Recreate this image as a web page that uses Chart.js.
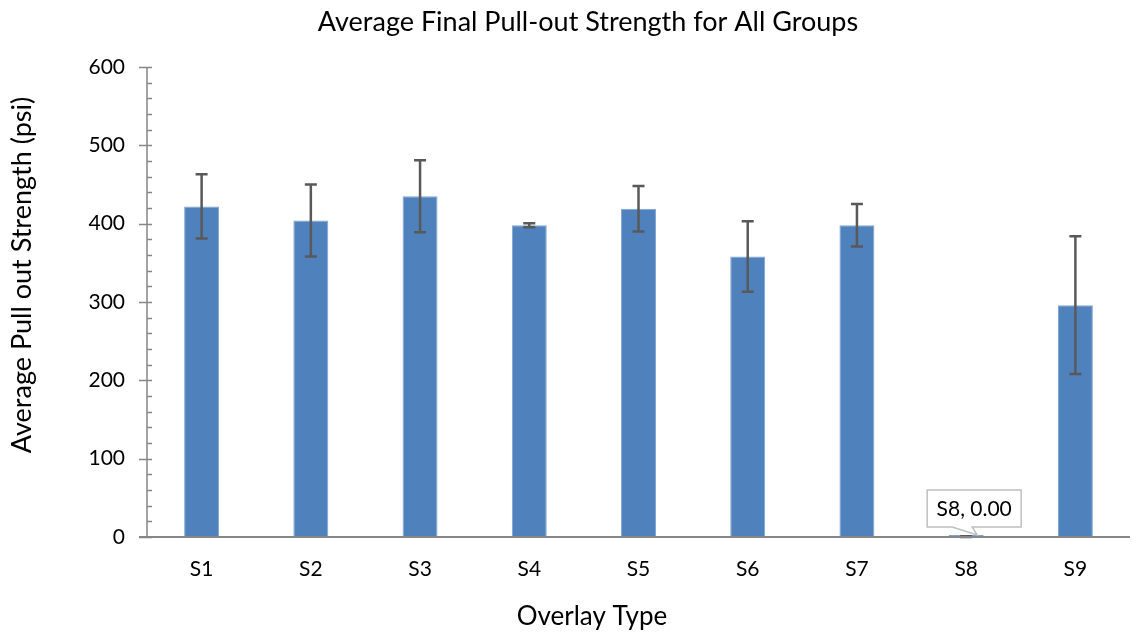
<!DOCTYPE html>
<html>
<head>
<meta charset="utf-8">
<script src="https://cdn.jsdelivr.net/npm/chart.js@4"></script>
<style>
  html, body { margin: 0; padding: 0; background: #fff; }
  #wrap { width: 1138px; height: 637px; }
</style>
</head>
<body>
<div id="wrap"><canvas id="chart" width="1138" height="637"></canvas></div>
<script>
// values
const categories = ["S1", "S2", "S3", "S4", "S5", "S6", "S7", "S8", "S9"];
const avgStrength = [422, 404, 435, 398, 419, 358, 398, 0, 296];
const errAmount = [41, 46, 46, 2.5, 29, 45, 27, 1, 88];
const yTicks = [0, 100, 200, 300, 400, 500, 600];

const chartTitle = "Average Final Pull-out Strength for All Groups";
const xTitle = "Overlay Type";
const yTitle = "Average Pull out Strength (psi)";
const calloutText = "S8, 0.00";
const calloutIndex = 7;

const FONT = "Lato, 'Open Sans', sans-serif";
const AXIS_COLOR = "#868686";

// error bars, axis ticks, titles and the S8 callout
const extras = {
  id: "extras",
  afterDatasetsDraw(chart) {
    const ctx = chart.ctx;
    const meta = chart.getDatasetMeta(0);
    const y = chart.scales.y;
    const area = chart.chartArea;

    // error bars
    ctx.save();
    ctx.strokeStyle = "#595959";
    ctx.lineWidth = 2.5;
    meta.data.forEach((bar, i) => {
      const top = y.getPixelForValue(avgStrength[i] + errAmount[i]);
      const bot = y.getPixelForValue(Math.max(avgStrength[i] - errAmount[i], 0));
      ctx.beginPath();
      ctx.moveTo(bar.x, top); ctx.lineTo(bar.x, bot);
      ctx.moveTo(bar.x - 6, top); ctx.lineTo(bar.x + 6, top);
      ctx.moveTo(bar.x - 6, bot); ctx.lineTo(bar.x + 6, bot);
      ctx.stroke();
    });
    ctx.restore();

    // y axis line + major / minor ticks
    ctx.save();
    ctx.strokeStyle = AXIS_COLOR;
    ctx.lineWidth = 1.5;
    ctx.beginPath();
    ctx.moveTo(area.left, area.top);
    ctx.lineTo(area.left, area.bottom);
    for (let v = 0; v <= 600; v += 20) {
      const py = Math.round(y.getPixelForValue(v)) + 0.5;
      if (v % 100 === 0) {
        ctx.moveTo(area.left - 8, py); ctx.lineTo(area.left + 5, py);
      } else {
        ctx.moveTo(area.left, py); ctx.lineTo(area.left + 5, py);
      }
    }
    ctx.stroke();
    // x axis line
    ctx.lineWidth = 2;
    ctx.beginPath();
    ctx.moveTo(area.left - 8, area.bottom);
    ctx.lineTo(area.right, area.bottom);
    ctx.stroke();
    ctx.restore();

    // callout for S8
    const b = meta.data[calloutIndex];
    const tipX = b.x + 11, tipY = y.getPixelForValue(0) - 2;
    const bx = tipX - 50, by = tipY - 45, bw = 94, bh = 37;
    ctx.save();
    ctx.fillStyle = "#fff";
    ctx.strokeStyle = "#bfbfbf";
    ctx.lineWidth = 1.5;
    ctx.beginPath();
    ctx.moveTo(bx, by);
    ctx.lineTo(bx + bw, by);
    ctx.lineTo(bx + bw, by + bh);
    ctx.lineTo(tipX - 5, by + bh);
    ctx.lineTo(tipX, tipY);
    ctx.lineTo(tipX - 25, by + bh);
    ctx.lineTo(bx, by + bh);
    ctx.closePath();
    ctx.fill();
    ctx.stroke();
    ctx.fillStyle = "#000";
    ctx.font = "21px " + FONT;
    ctx.textAlign = "center";
    ctx.textBaseline = "middle";
    ctx.fillText(calloutText, bx + bw / 2, by + bh / 2 + 1);
    ctx.restore();
  },
  afterDraw(chart) {
    const ctx = chart.ctx;
    ctx.save();
    ctx.fillStyle = "#000";
    ctx.textAlign = "center";
    ctx.textBaseline = "middle";
    ctx.font = "27px " + FONT;
    ctx.fillText(chartTitle, 588, 22);
    ctx.font = "26px " + FONT;
    ctx.fillText(xTitle, 592, 617);
    ctx.font = "27px " + FONT;
    ctx.translate(22, 275);
    ctx.rotate(-Math.PI / 2);
    ctx.fillText(yTitle, 0, 0);
    ctx.restore();
  }
};

new Chart(document.getElementById("chart"), {
  type: "bar",
  data: {
    labels: categories,
    datasets: [{
      data: avgStrength,
      backgroundColor: "#4F81BD",
      borderColor: "#7FA3D0",
      borderWidth: { left: 1, right: 1, top: 1, bottom: 0 },
      categoryPercentage: 1,
      barPercentage: 0.32,
      minBarLength: 2
    }]
  },
  options: {
    responsive: false,
    animation: false,
    devicePixelRatio: 1,
    layout: { padding: { top: 67, right: 8, left: 0, bottom: 0 } },
    plugins: {
      legend: { display: false },
      title: { display: false },
      tooltip: { enabled: false }
    },
    scales: {
      x: {
        grid: { display: false, drawTicks: false },
        border: { display: false },
        ticks: { color: "#000", font: { family: FONT, size: 21 }, padding: 20 },
        afterFit(scale) { scale.height = 100; }
      },
      y: {
        min: 0,
        max: 600,
        afterBuildTicks(scale) { scale.ticks = yTicks.map(v => ({ value: v })); },
        grid: { display: false, drawTicks: false },
        border: { display: false },
        ticks: { color: "#000", font: { family: FONT, size: 21 }, padding: 22 },
        afterFit(scale) { scale.width = 147; }
      }
    }
  },
  plugins: [extras]
});
</script>
</body>
</html>
